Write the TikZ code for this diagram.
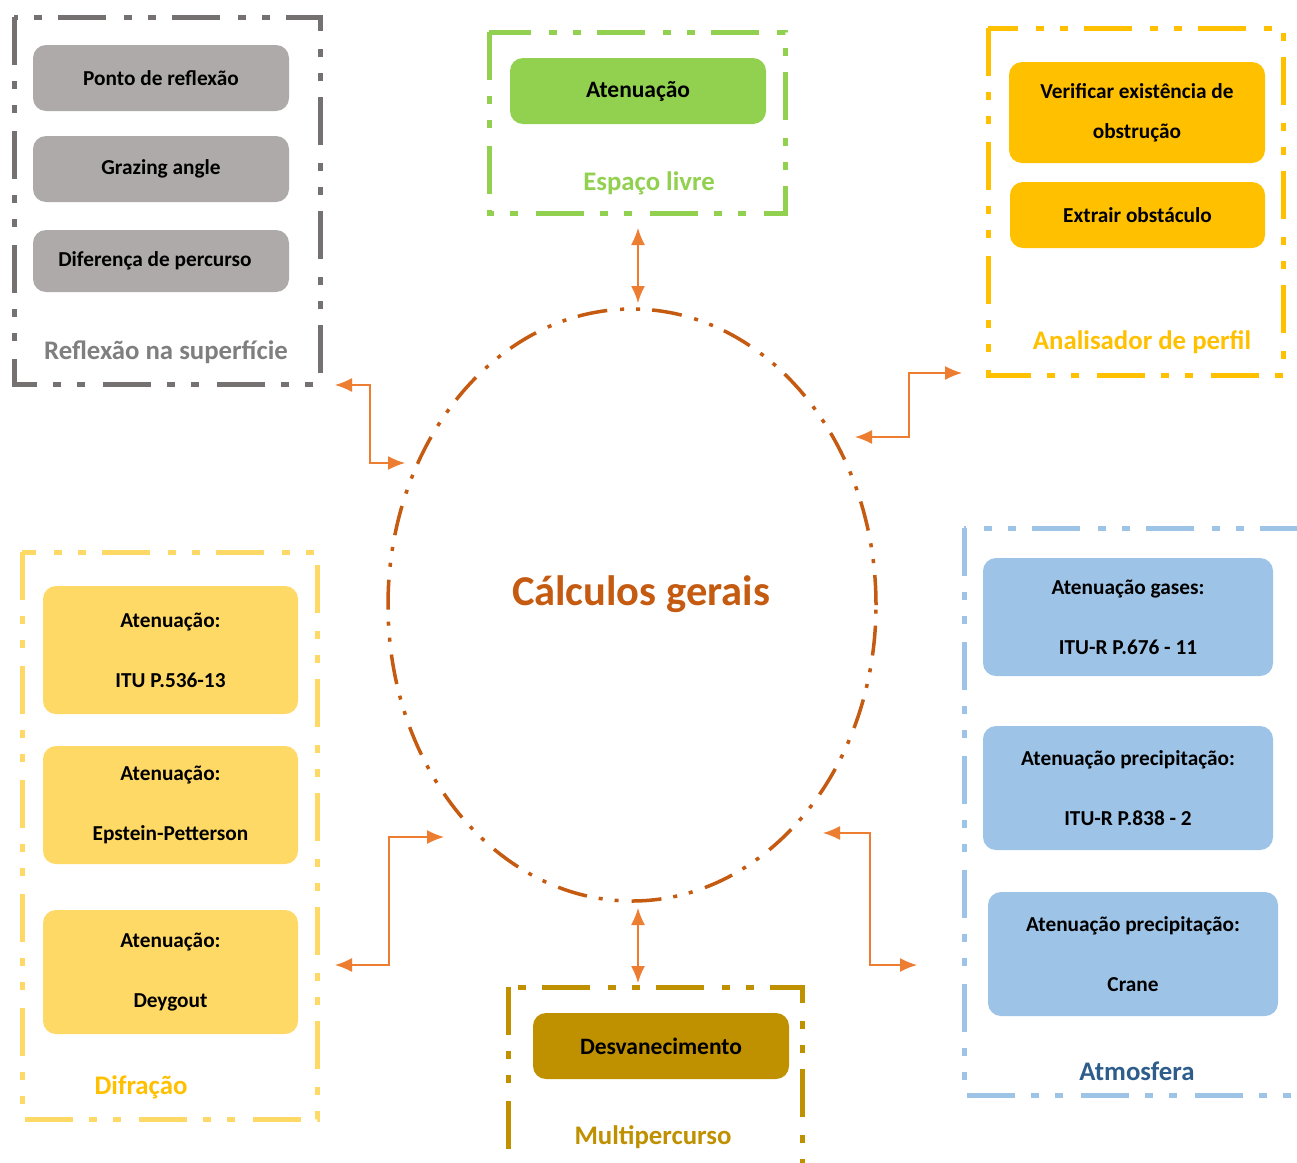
\documentclass[tikz,border=0pt]{standalone}
\usepackage{fontspec}
\setmainfont{Carlito}
\usetikzlibrary{arrows.meta,shapes.geometric}
\definecolor{gframe}{HTML}{767171}
\definecolor{gfill}{HTML}{AEAAAA}
\definecolor{glabel}{HTML}{7F7F7F}
\definecolor{grn}{HTML}{92D050}
\definecolor{org}{HTML}{FFC000}
\definecolor{ylw}{HTML}{FFD966}
\definecolor{blu}{HTML}{9DC3E6}
\definecolor{dblu}{HTML}{2E5D8C}
\definecolor{gold}{HTML}{BF9000}
\definecolor{rust}{HTML}{C55A11}
\definecolor{arr}{HTML}{ED7D31}
\tikzset{
  frame/.style={line width=5pt, dash pattern=on 48pt off 16pt on 8pt off 16pt on 8pt off 18pt},
  inbox/.style={rounded corners=13pt, draw=none, font=\bfseries\fontsize{21.3}{60}\selectfont, align=center, inner sep=0pt},
  grouplabel/.style={font=\bfseries\fontsize{26.8}{30}\selectfont},
  link/.style={arr, line width=1.5pt, {Latex[length=17pt,width=14pt]}-{Latex[length=17pt,width=14pt]}}
}
\begin{document}
\begin{tikzpicture}[x=1pt,y=-1pt]
\useasboundingbox (0,0) rectangle (1297,1162);
\clip (0,0) rectangle (1297,1162);
\fill[white] (0,0) rectangle (1297,1162);

% Reflexão na superfície
\draw[frame, gframe] (14,17) rectangle (320,384);
\node[inbox, fill=gfill, minimum width=256pt, minimum height=66pt] (ponto) at (161,78) {Ponto de reflexão};
\node[inbox, fill=gfill, minimum width=256pt, minimum height=66pt] (grazing) at (161,169) {Grazing angle};
\node[inbox, fill=gfill, minimum width=256pt, minimum height=62pt] (difper) at (161,261) {Diferença de percurso\hspace{12pt}};
\node[grouplabel, text=glabel] (reflabel) at (166,352) {Reflexão na superfície};

% Espaço livre
\draw[frame, grn] (489,32) rectangle (785,213);
\node[inbox, fill=grn, minimum width=256pt, minimum height=66pt, font=\bfseries\fontsize{23.5}{27}\selectfont] (aten) at (638,91) {Atenuação};
\node[grouplabel, text=grn] (esplabel) at (649,183) {Espaço livre};

% Analisador de perfil
\draw[frame, org] (988,28) rectangle (1283,375);
\node[inbox, fill=org, minimum width=256pt, minimum height=101pt, font=\bfseries\fontsize{21.3}{40}\selectfont] (verif) at (1137,112.5) {Verificar existência de\\obstrução};
\node[inbox, fill=org, minimum width=255pt, minimum height=66pt] (extr) at (1137.5,215) {Extrair obstáculo};
\node[grouplabel, text=org] (analabel) at (1142,342) {Analisador de perfil};

% Difração
\draw[frame, ylw] (22,552) rectangle (317,1119);
\node[inbox, fill=ylw, minimum width=255pt, minimum height=128pt] (dif1) at (170.5,650) {Atenuação:\\ITU P.536-13};
\node[inbox, fill=ylw, minimum width=255pt, minimum height=118pt] (dif2) at (170.5,805) {Atenuação:\\Epstein-Petterson};
\node[inbox, fill=ylw, minimum width=255pt, minimum height=124pt] (dif3) at (170.5,972) {Atenuação:\\Deygout};
\node[grouplabel, text=org] (diflabel) at (141,1087) {Difração};

% Atmosfera
\draw[frame, blu] (964,528) rectangle (1310,1095);
\node[inbox, fill=blu, minimum width=290pt, minimum height=118pt] (atm1) at (1128,617) {Atenuação gases:\\ITU-R P.676 - 11};
\node[inbox, fill=blu, minimum width=290pt, minimum height=124pt] (atm2) at (1128,788) {Atenuação precipitação:\\ITU-R P.838 - 2};
\node[inbox, fill=blu, minimum width=290pt, minimum height=124pt] (atm3) at (1133,954) {Atenuação precipitação:\\Crane};
\node[grouplabel, text=dblu] (atmlabel) at (1137,1071) {Atmosfera};

% Multipercurso
\draw[frame, gold] (508,987) rectangle (802,1190);
\node[inbox, fill=gold, minimum width=256pt, minimum height=66pt, font=\bfseries\fontsize{23.5}{27}\selectfont] (desv) at (661,1046) {Desvanecimento};
\node[grouplabel, text=gold] (multlabel) at (653,1137) {Multipercurso};

% Central ellipse
\node[ellipse, draw=rust, line width=3.5pt, minimum width=488pt, minimum height=592pt, inner sep=0pt,
  dash pattern=on 30pt off 12pt on 4pt off 12pt on 4pt off 13pt] (calc) at (632,605) {};
\node[font=\bfseries\fontsize{42.5}{48}\selectfont, text=rust] (calctext) at (641,594) {Cálculos gerais};

% connector end points
\coordinate (tA) at (638,228);
\coordinate (tB) at (638,303);
\coordinate (bA) at (638,908);
\coordinate (bB) at (638,983);
\coordinate (ulA) at (335,385);
\coordinate (ulB) at (405,463);
\coordinate (urA) at (962,373);
\coordinate (urB) at (855,437);
\coordinate (llA) at (335,965);
\coordinate (llB) at (444,837);
\coordinate (lrA) at (823,833);
\coordinate (lrB) at (917,965);

\draw[link] (tA) -- (tB);
\draw[link] (bA) -- (bB);
\draw[link] (ulA) -- (370,385) -- (370,463) -- (ulB);
\draw[link] (urA) -- (909,373) -- (909,437) -- (urB);
\draw[link] (llA) -- (389,965) -- (389,837) -- (llB);
\draw[link] (lrA) -- (870,833) -- (870,965) -- (lrB);
\end{tikzpicture}
\end{document}
